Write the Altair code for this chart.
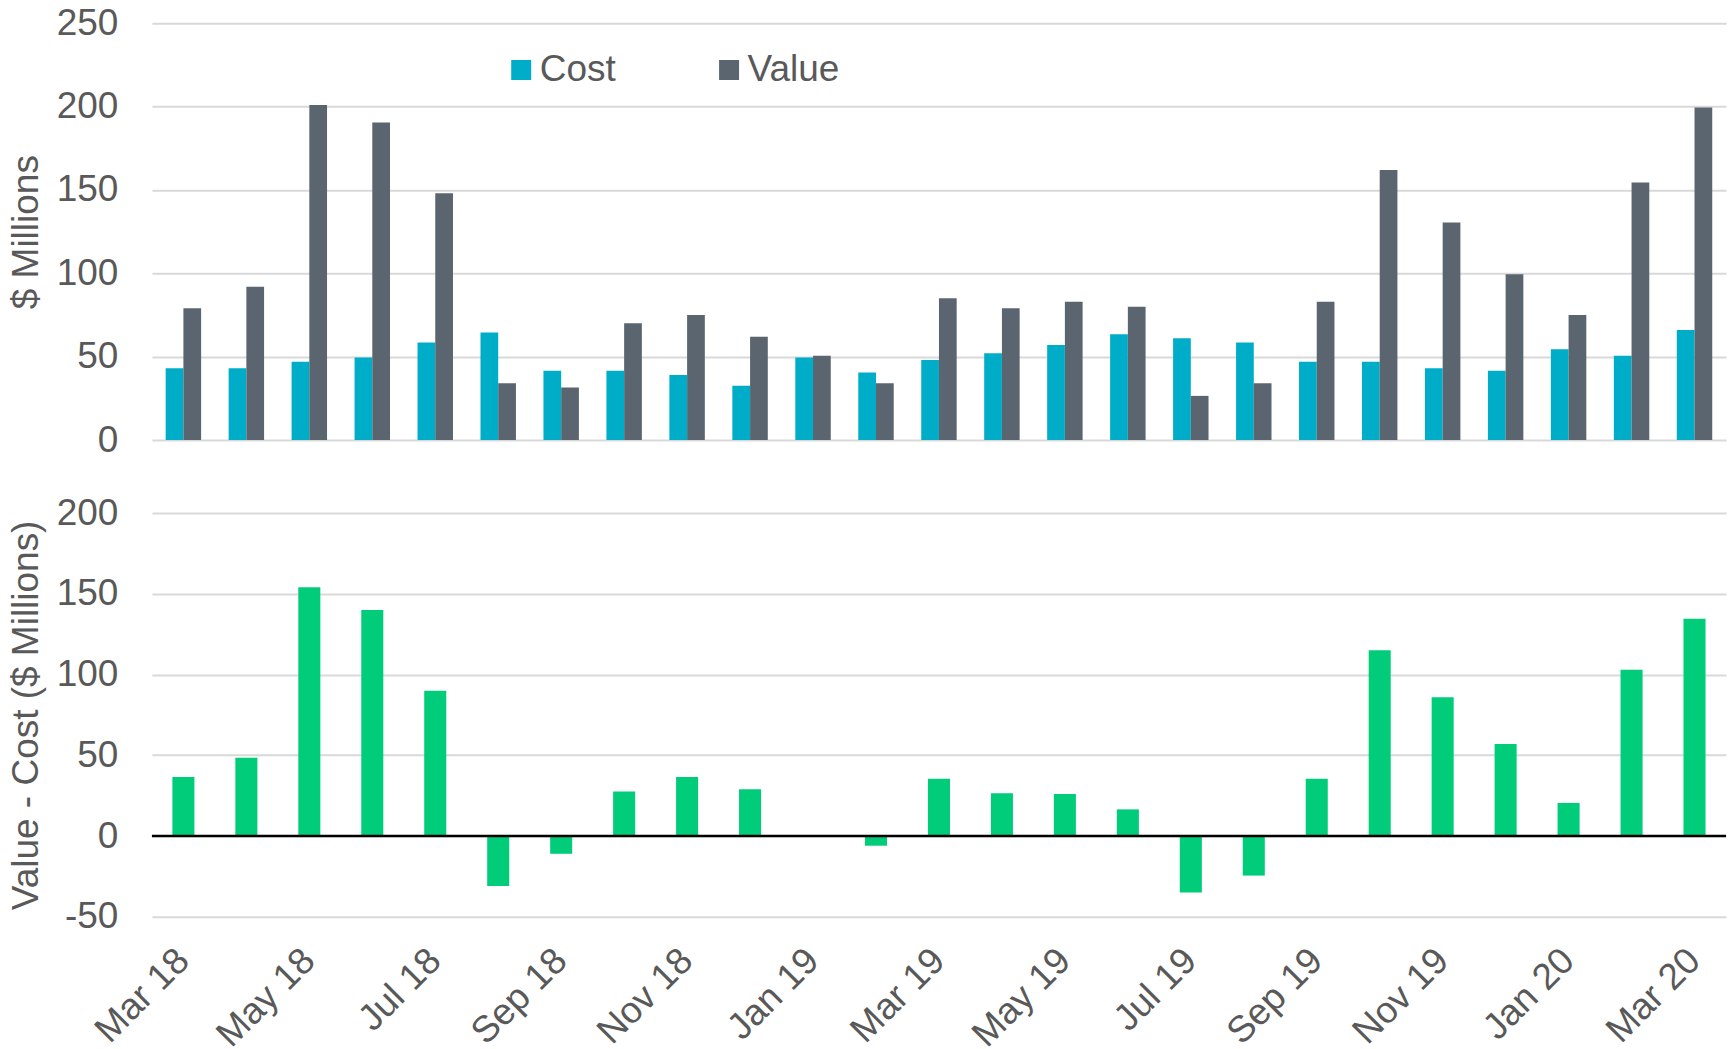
import altair as alt
import pandas as pd

months = ["Mar 18", "Apr 18", "May 18", "Jun 18", "Jul 18", "Aug 18", "Sep 18",
          "Oct 18", "Nov 18", "Dec 18", "Jan 19", "Feb 19", "Mar 19", "Apr 19",
          "May 19", "Jun 19", "Jul 19", "Aug 19", "Sep 19", "Oct 19", "Nov 19",
          "Dec 19", "Jan 20", "Feb 20", "Mar 20"]
cost = [43, 43, 47, 49.5, 58.5, 64.5, 41.5, 41.5, 39, 32.5, 49.5, 40.5, 48, 52,
        57, 63.5, 61, 58.5, 47, 47, 43, 41.5, 54.5, 50.5, 66]
value = [79, 92, 201, 190.5, 148, 34, 31.5, 70, 75, 62, 50.5, 34, 85, 79,
         83, 80, 26.5, 34, 83, 162, 130.5, 99.5, 75, 154.5, 199.5]
diff = [36.5, 48.5, 154, 140, 90, -31, -11, 27.5, 36.5, 29, 0.6, -6, 35.5, 26.5,
        26, 16.5, -35, -24.5, 35.5, 115, 86, 57, 20.5, 103, 134.5]
label_months = months[::2]
series = ["Cost", "Value"]
colors = ["#00ADC9", "#5A6570"]
green = "#00CC7A"

FONT = "Liberation Sans"
TXT = "#595959"
FS = 37

rows = []
for m, c, v in zip(months, cost, value):
    rows.append({"month": m, "series": "Cost", "amount": c})
    rows.append({"month": m, "series": "Value", "amount": v})
df_top = pd.DataFrame(rows)
df_bot = pd.DataFrame({"month": months, "diff": diff})

W = 1575

top = alt.Chart(df_top).mark_bar().encode(
    x=alt.X("month:N", sort=months,
            scale=alt.Scale(paddingInner=0.437, paddingOuter=0.2185),
            axis=None),
    xOffset=alt.XOffset("series:N", sort=series),
    y=alt.Y("amount:Q", scale=alt.Scale(domain=[0, 250]),
            axis=alt.Axis(values=[0, 50, 100, 150, 200, 250], title="$ Millions",
                          labelPadding=34, titlePadding=12, tickSize=0,
                          minExtent=94, maxExtent=94)),
    color=alt.Color("series:N", sort=series,
                    scale=alt.Scale(domain=series, range=colors),
                    legend=alt.Legend(orient="none", legendX=351, legendY=28,
                                      direction="horizontal", title=None,
                                      symbolType="square", symbolSize=400,
                                      symbolStrokeWidth=0, labelOffset=0,
                                      columnPadding=94, padding=0,
                                      labelFont=FONT, labelFontSize=FS,
                                      labelColor=TXT)),
).properties(width=W, height=417)

bars = alt.Chart(df_bot).mark_bar(color=green).encode(
    x=alt.X("month:N", sort=months,
            scale=alt.Scale(paddingInner=0.65, paddingOuter=0.325),
            axis=alt.Axis(values=label_months, title=None, labelAngle=-45,
                          labelAlign="right", labelBaseline="middle",
                          labelPadding=38, tickSize=0, grid=False)),
    y=alt.Y("diff:Q", scale=alt.Scale(domain=[-50, 200]),
            axis=alt.Axis(values=[-50, 0, 50, 100, 150, 200],
                          labelExpr="'' + datum.value",
                          title="Value - Cost ($ Millions)",
                          labelPadding=34, titlePadding=12, tickSize=0,
                          minExtent=94, maxExtent=94)),
)
zero = alt.Chart(pd.DataFrame({"y": [0]})).mark_rule(color="black", strokeWidth=2.5).encode(
    y=alt.Y("y:Q", scale=alt.Scale(domain=[-50, 200]))
)
bottom = alt.layer(bars, zero).properties(width=W, height=404)

chart = alt.vconcat(top, bottom, spacing=36).properties(
    padding={"top": -4, "left": 0, "right": 0, "bottom": 0}
).configure_view(stroke=None).configure_axis(
    labelFont=FONT, labelFontSize=FS, labelColor=TXT,
    titleFont=FONT, titleFontSize=FS, titleColor=TXT, titleFontWeight="normal",
    domain=False, ticks=False, gridColor="#D9D9D9", gridWidth=2,
).configure_axisX(grid=False)

chart.save("out.html", embed_options={"renderer": "svg", "actions": False})
